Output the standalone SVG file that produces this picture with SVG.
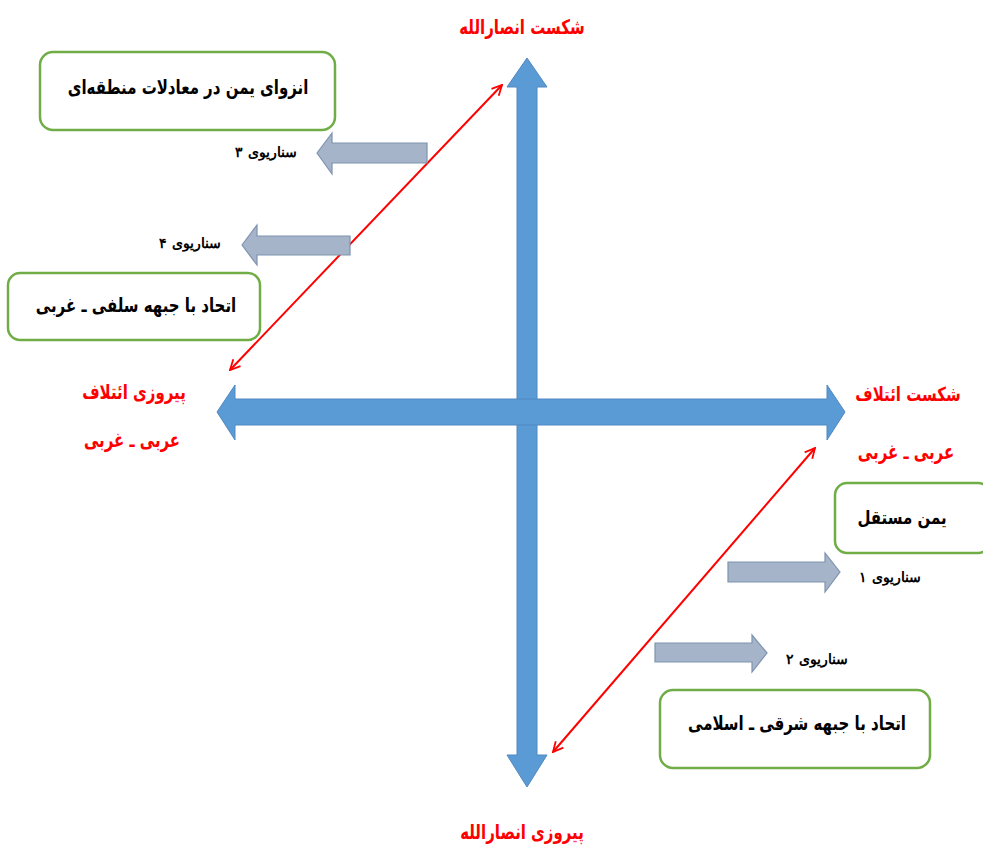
<svg xmlns="http://www.w3.org/2000/svg" width="983" height="849" viewBox="0 0 983 849">
<style>
.red{font-family:"DejaVu Sans",sans-serif;font-weight:bold;fill:#FF0000;font-size:15px}
.box{fill:#FFFFFF;stroke:#70AD47;stroke-width:2.5}
.bt{font-family:"DejaVu Sans",sans-serif;font-weight:bold;fill:#000000;font-size:15px}
.sc{font-family:"DejaVu Serif","Liberation Serif",serif;font-weight:bold;fill:#000000;font-size:14px}
.blue{fill:#5B9BD5;stroke:#4F88C0;stroke-width:1}
.gray{fill:#A5B4C9;stroke:#7E93B0;stroke-width:1.2}
.rl{stroke:#FF0000;stroke-width:2;fill:none}
</style>
<defs>
<marker id="rh" viewBox="0 0 12 12" refX="11" refY="6" markerWidth="12" markerHeight="12" markerUnits="userSpaceOnUse" orient="auto-start-reverse">
<path d="M1,1 L11,6 L1,11" fill="none" stroke="#FF0000" stroke-width="1.8"/>
</marker>
</defs>
<rect width="983" height="849" fill="#FFFFFF"/>
<g id="axes">
<polygon class="blue" points="527,58 547,87 537,87 537,755 547,755 527,787 507,755 517,755 517,87 507,87"/>
<polygon class="blue" points="217,412 235,385 235,399 827,399 827,385 845,412 827,440 827,425 235,425 235,440"/>
</g>
<g id="connectors">
<line class="rl" x1="230" y1="370" x2="502" y2="85" marker-start="url(#rh)" marker-end="url(#rh)"/>
<line class="rl" x1="553" y1="752" x2="815" y2="448" marker-start="url(#rh)" marker-end="url(#rh)"/>
<polygon class="gray" points="317,153 332,133 332,143 427,143 427,163 332,163 332,174"/>
<polygon class="gray" points="242,245 257,225 257,236 350,236 350,255 257,255 257,265"/>
<polygon class="gray" points="840,572 825,553 825,562 728,562 728,582 825,582 825,592"/>
<polygon class="gray" points="767,653 752,635 752,643 655,643 655,662 752,662 752,672"/>
</g>
<g id="labels">
<text class="red" transform="translate(522,34) scale(1,1.35)" text-anchor="middle" direction="rtl" font-size="14">شکست انصارالله</text>
<text class="red" transform="translate(522,839) scale(1,1.35)" text-anchor="middle" direction="rtl" font-size="14">پیروزی انصارالله</text>
<text class="red" transform="translate(134,399) scale(1,1.35)" text-anchor="middle" direction="rtl">پیروزی ائتلاف</text>
<text class="red" transform="translate(132,447) scale(1,1.35)" text-anchor="middle" direction="rtl" font-size="14">عربی ـ غربی</text>
<text class="red" transform="translate(908,401) scale(1,1.3)" text-anchor="middle" direction="rtl" font-size="17">شکست ائتلاف</text>
<text class="red" transform="translate(906,459) scale(1,1.4)" text-anchor="middle" direction="rtl" font-size="13">عربی ـ غربی</text>
<text class="sc" x="266" y="157" text-anchor="middle" direction="rtl">سناریوی ۳</text>
<text class="sc" x="190" y="248" text-anchor="middle" direction="rtl">سناریوی ۴</text>
<text class="sc" x="890" y="582" text-anchor="middle" direction="rtl">سناریوی ۱</text>
<text class="sc" x="817" y="664" text-anchor="middle" direction="rtl">سناریوی ۲</text>
</g>
<g id="box1">
<rect class="box" x="40" y="52" width="295" height="78" rx="13"/>
<text class="bt" transform="translate(188,94) scale(1,1.3)" text-anchor="middle" direction="rtl">انزوای یمن در معادلات منطقه‌ای</text>
</g>
<g id="box2">
<rect class="box" x="8" y="273" width="252" height="67" rx="12"/>
<text class="bt" transform="translate(136,312) scale(1,1.3)" text-anchor="middle" direction="rtl">اتحاد با جبهه سلفی ـ غربی</text>
</g>
<g id="box3">
<rect class="box" x="835" y="483" width="155" height="70" rx="12"/>
<text class="bt" transform="translate(902,524) scale(1,1.25)" text-anchor="middle" direction="rtl" font-size="17">یمن  مستقل</text>
</g>
<g id="box4">
<rect class="box" x="660" y="690" width="270" height="78" rx="13"/>
<text class="bt" transform="translate(797,730) scale(1,1.3)" text-anchor="middle" direction="rtl">اتحاد با جبهه شرقی ـ اسلامی</text>
</g>
</svg>
